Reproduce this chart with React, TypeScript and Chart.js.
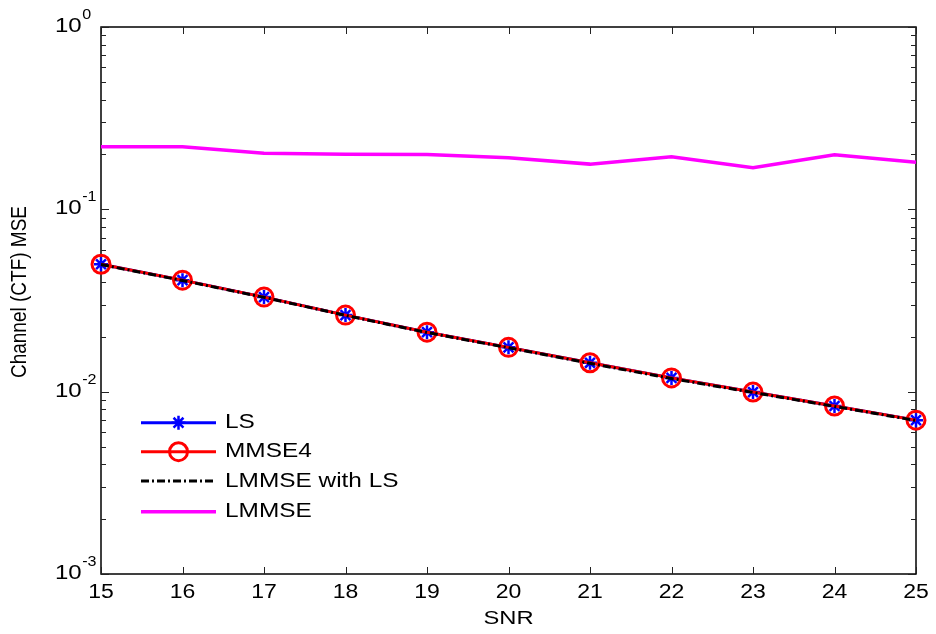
import React, { useEffect, useRef } from "react";
import { Chart, registerables } from "chart.js";

Chart.register(...registerables);

const snr = [15, 16, 17, 18, 19, 20, 21, 22, 23, 24, 25];
const lsMse = [0.05, 0.0409, 0.033, 0.0263, 0.0212, 0.0175, 0.0144, 0.0119, 0.00995, 0.00834, 0.00698];
const mmse4Mse = [0.05, 0.0409, 0.033, 0.0263, 0.0212, 0.0175, 0.0144, 0.0119, 0.00995, 0.00834, 0.00698];
const lmmseLsMse = [0.0498, 0.0407, 0.0329, 0.0262, 0.0211, 0.0174, 0.0143, 0.0118, 0.0099, 0.0083, 0.00695];
const lmmseMse = [0.2205, 0.2205, 0.203, 0.2005, 0.2, 0.192, 0.177, 0.194, 0.169, 0.199, 0.181];

const xTicks = [15, 16, 17, 18, 19, 20, 21, 22, 23, 24, 25];
const yDecades = [0, -1, -2, -3];
const legendLabels = ["LS", "MMSE4", "LMMSE with LS", "LMMSE"];
const xTitle = "SNR";
const yTitle = "Channel (CTF) MSE";

const FONT = '"Liberation Sans", Arial, sans-serif';

const toPts = (ys: number[]) => snr.map((x, i) => ({ x, y: ys[i] }));

function textScaled(ctx: any, s: string, x: number, y: number, sx: number, align: string) {
  ctx.save();
  ctx.translate(x, y);
  ctx.scale(sx, 1);
  ctx.textAlign = align;
  ctx.fillText(s, 0, 0);
  ctx.restore();
}

const axesPlugin = {
  id: "matlabAxes",
  beforeDatasetsDraw(chart: any) {
    const ctx = chart.ctx;
    const { left, right, top, bottom } = chart.chartArea;
    const xs = chart.scales.x;
    const ys = chart.scales.y;
    ctx.save();
    ctx.strokeStyle = "#000";
    ctx.lineWidth = 1.5;
    ctx.strokeRect(left, top, right - left, bottom - top);
    ctx.lineWidth = 1;
    ctx.strokeStyle = "#222";
    ctx.beginPath();
    for (const t of xTicks) {
      const px = Math.round(xs.getPixelForValue(t)) + 0.5;
      ctx.moveTo(px, bottom);
      ctx.lineTo(px, bottom - 7);
      ctx.moveTo(px, top);
      ctx.lineTo(px, top + 7);
    }
    for (const d of yDecades) {
      for (let m = 1; m <= 9; m++) {
        if (d === 0 && m > 1) continue;
        const v = m * Math.pow(10, d);
        const py = Math.round(ys.getPixelForValue(v)) + 0.5;
        const len = m === 1 ? 8 : 5;
        ctx.moveTo(left, py);
        ctx.lineTo(left + len, py);
        ctx.moveTo(right, py);
        ctx.lineTo(right - len, py);
      }
    }
    ctx.stroke();
    ctx.restore();
  },
  afterDraw(chart: any) {
    const ctx = chart.ctx;
    const { left, right } = chart.chartArea;
    const xs = chart.scales.x;
    const ys = chart.scales.y;
    ctx.save();
    ctx.fillStyle = "#000";
    ctx.textBaseline = "middle";
    // x tick labels
    ctx.font = `20px ${FONT}`;
    for (const t of xTicks) {
      textScaled(ctx, String(t), xs.getPixelForValue(t), 592, 1.15, "center");
    }
    // y tick labels
    for (const d of yDecades) {
      const py = ys.getPixelForValue(Math.pow(10, d));
      ctx.font = `20px ${FONT}`;
      const bw = ctx.measureText("10").width * 1.2;
      textScaled(ctx, "10", 55, py - 0.5, 1.2, "left");
      ctx.font = `14px ${FONT}`;
      textScaled(ctx, String(d), 55 + bw + 0.5, py - 12, 1.15, "left");
    }
    // axis titles
    ctx.font = `19px ${FONT}`;
    textScaled(ctx, xTitle, (left + right) / 2, 619, 1.25, "center");
    ctx.save();
    ctx.translate(20, 292);
    ctx.rotate(-Math.PI / 2);
    ctx.scale(1, 1.15);
    ctx.textAlign = "center";
    ctx.fillText(yTitle, 0, 0);
    ctx.restore();

    // legend
    const rows = [422.7, 451.7, 481, 511.7];
    const x0 = 141, x1 = 216, xm = 178.5;
    ctx.lineCap = "butt";
    // LS
    ctx.strokeStyle = "#0000ff";
    ctx.lineWidth = 3;
    ctx.beginPath(); ctx.moveTo(x0, rows[0]); ctx.lineTo(x1, rows[0]); ctx.stroke();
    ctx.lineWidth = 2.5;
    ctx.beginPath();
    const r = 7;
    ctx.moveTo(xm, rows[0] - r); ctx.lineTo(xm, rows[0] + r);
    ctx.moveTo(xm - r, rows[0]); ctx.lineTo(xm + r, rows[0]);
    const d2 = r * 0.7071;
    ctx.moveTo(xm - d2, rows[0] - d2); ctx.lineTo(xm + d2, rows[0] + d2);
    ctx.moveTo(xm - d2, rows[0] + d2); ctx.lineTo(xm + d2, rows[0] - d2);
    ctx.stroke();
    // MMSE4
    ctx.strokeStyle = "#ff0000";
    ctx.lineWidth = 3;
    ctx.beginPath(); ctx.moveTo(x0, rows[1]); ctx.lineTo(x1, rows[1]); ctx.stroke();
    ctx.beginPath(); ctx.arc(xm, rows[1], 9, 0, Math.PI * 2); ctx.stroke();
    // LMMSE with LS
    ctx.strokeStyle = "#000";
    ctx.lineWidth = 3;
    ctx.setLineDash([8, 3, 2, 3]);
    ctx.beginPath(); ctx.moveTo(x0, rows[2]); ctx.lineTo(x1, rows[2]); ctx.stroke();
    ctx.setLineDash([]);
    // LMMSE
    ctx.strokeStyle = "#ff00ff";
    ctx.lineWidth = 3.5;
    ctx.beginPath(); ctx.moveTo(x0, rows[3]); ctx.lineTo(x1, rows[3]); ctx.stroke();

    ctx.font = `20px ${FONT}`;
    ctx.fillStyle = "#000";
    legendLabels.forEach((lab, i) => textScaled(ctx, lab, 225, rows[i], 1.22, "left"));
    ctx.restore();
  },
};

export default function App() {
  const ref = useRef<HTMLCanvasElement | null>(null);
  useEffect(() => {
    if (!ref.current) return;
    const chart = new Chart(ref.current, {
      type: "line",
      data: {
        datasets: [
          {
            label: legendLabels[0],
            data: toPts(lsMse),
            borderColor: "#0000ff",
            backgroundColor: "#0000ff",
            borderWidth: 3,
            pointStyle: "star",
            pointRadius: 7,
            pointBorderWidth: 2.5,
            pointBorderColor: "#0000ff",
            order: 4,
            clip: false,
          },
          {
            label: legendLabels[1],
            data: toPts(mmse4Mse),
            borderColor: "#ff0000",
            backgroundColor: "rgba(0,0,0,0)",
            borderWidth: 3,
            pointStyle: "circle",
            pointRadius: 9,
            pointBorderWidth: 3,
            pointBorderColor: "#ff0000",
            pointBackgroundColor: "rgba(0,0,0,0)",
            order: 3,
            clip: false,
          },
          {
            label: legendLabels[2],
            data: toPts(lmmseLsMse),
            borderColor: "#000000",
            borderWidth: 3,
            borderDash: [8, 3, 2, 3],
            pointRadius: 0,
            order: 2,
            clip: false,
          },
          {
            label: legendLabels[3],
            data: toPts(lmmseMse),
            borderColor: "#ff00ff",
            borderWidth: 3.5,
            pointRadius: 0,
            order: 1,
            clip: false,
          },
        ],
      } as any,
      options: {
        responsive: false,
        animation: false,
        maintainAspectRatio: false,
        layout: { padding: { left: 101, top: 27, right: 20, bottom: 60 } },
        scales: {
          x: { type: "linear", min: 15, max: 25, display: false },
          y: { type: "logarithmic", min: 0.001, max: 1, display: false },
        },
        plugins: {
          legend: { display: false },
          tooltip: { enabled: false },
        },
        elements: { line: { tension: 0 } },
      },
      plugins: [axesPlugin],
    });
    return () => chart.destroy();
  }, []);
  return (
    <div style={{ position: "absolute", left: 0, top: 0, width: 936, height: 634, background: "#fff" }}>
      <canvas ref={ref} width={936} height={634} style={{ width: 936, height: 634, display: "block" }} />
    </div>
  );
}
